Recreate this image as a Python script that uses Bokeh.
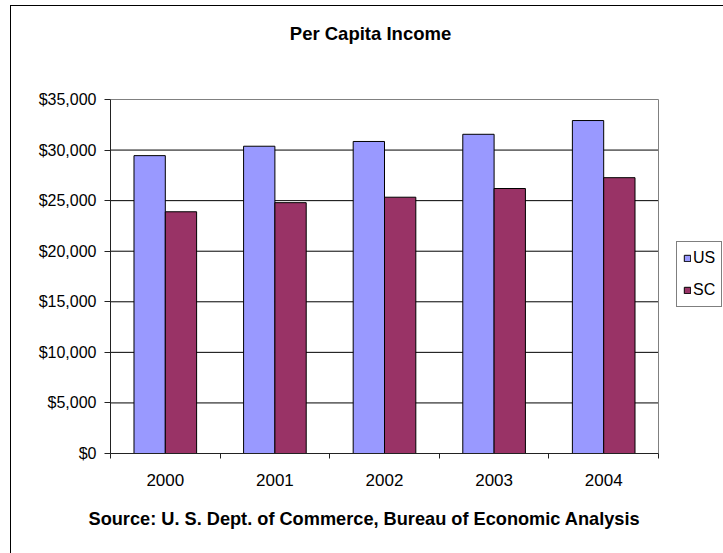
import numpy as np
from bokeh.plotting import figure
from bokeh.models import (ColumnDataSource, FixedTicker, NumeralTickFormatter, Range1d,
                          Legend, LegendItem, Title, Label, InlineStyleSheet)
from bokeh.embed import file_html
from bokeh.resources import INLINE

# ---- data ----
years = ["2000", "2001", "2002", "2003", "2004"]
us_income = [29450, 30380, 30850, 31560, 32920]
sc_income = [23900, 24800, 25340, 26200, 27270]
series_names = ["US", "SC"]
y_ticks = [0, 5000, 10000, 15000, 20000, 25000, 30000, 35000]
title_text = "Per Capita Income"
source_text = "Source:  U. S. Dept. of Commerce, Bureau of Economic Analysis"

# ---- layout (pixels) ----
W, H = 723, 553
PLOT_LEFT, PLOT_RIGHT, PLOT_TOP, PLOT_BOTTOM = 110, 658, 99, 453
FONT = "Liberation Sans"

n = len(years)
y_max = y_ticks[-1]
# the frame spans the whole upper-right canvas so that title and legend can live inside it;
# the plot area itself is 0..n x 0..y_max
x_end = n * (W - PLOT_LEFT) / (PLOT_RIGHT - PLOT_LEFT)
y_end = y_max * PLOT_BOTTOM / (PLOT_BOTTOM - PLOT_TOP)

idx = np.arange(n)
bar_w = 1 / 3.5  # Excel gap width 150%

src = ColumnDataSource(dict(
    x_us=idx + 0.5 - bar_w / 2,
    x_sc=idx + 0.5 + bar_w / 2,
    us=us_income,
    sc=sc_income,
))
grid_vals = y_ticks[1:-1]

p = figure(width=W, height=H, output_backend="svg", toolbar_location=None, title=None,
           x_range=Range1d(0, x_end), y_range=Range1d(0, y_end),
           min_border_left=PLOT_LEFT, min_border_right=0, min_border_top=0,
           min_border_bottom=H - PLOT_BOTTOM)
p.background_fill_color = None
p.border_fill_color = None
p.outline_line_color = None
p.xgrid.visible = False
p.ygrid.visible = False
# white page with the chart-area border (left and top edges only; right/bottom run off the page)
p.stylesheets = [InlineStyleSheet(css=(
    ":host {"
    " background: white;"
    " box-shadow: inset 10px 5px 0 0 white, inset 11px 6px 0 0 black;"
    "}"
))]

# horizontal gridlines and grey plot-area border
p.segment(x0=0, x1=n, y0=grid_vals, y1=grid_vals, line_color="black", line_width=1)
p.quad(left=0, right=n, bottom=0, top=y_max, fill_color=None,
       line_color="#808080", line_width=1)

r_us = p.vbar(x="x_us", top="us", width=bar_w, source=src,
              fill_color="#9999FF", line_color="black", line_width=1)
r_sc = p.vbar(x="x_sc", top="sc", width=bar_w, source=src,
              fill_color="#993366", line_color="black", line_width=1)

# y axis
ya = p.yaxis[0]
ya.bounds = (0, y_max)
ya.ticker = FixedTicker(ticks=y_ticks)
ya.formatter = NumeralTickFormatter(format="$0,0")
ya.axis_line_color = "#222222"
ya.major_tick_line_color = "#222222"
ya.major_tick_out = 6
ya.major_tick_in = 0
ya.minor_tick_line_color = None
ya.major_label_standoff = 8
ya.major_label_text_font = FONT
ya.major_label_text_font_size = "16px"
ya.major_label_text_color = "black"

# x axis
xa = p.xaxis[0]
xa.bounds = (0, n)
centers = [float(i + 0.5) for i in idx]
xa.ticker = FixedTicker(ticks=centers, minor_ticks=[float(i) for i in range(n + 1)])
xa.major_label_overrides = {c: y for c, y in zip(centers, years)}
xa.axis_line_color = "#222222"
xa.major_tick_line_color = None
xa.major_tick_out = 0
xa.major_tick_in = 0
xa.minor_tick_line_color = "#222222"
xa.minor_tick_out = 5
xa.minor_tick_in = 0
xa.major_label_standoff = 15
xa.major_label_text_font = FONT
xa.major_label_text_font_size = "17px"
xa.major_label_text_color = "black"

# chart title (inside the extended frame, screen units from frame bottom-left)
p.add_layout(Label(x=370 - PLOT_LEFT, y=PLOT_BOTTOM - 33, x_units="screen", y_units="screen",
                   text=title_text, text_font=FONT, text_font_size="18.5px",
                   text_font_style="bold", text_align="center", text_baseline="middle",
                   text_color="black"))

# source note below the axis
src_title = Title(text=source_text, align="left", offset=-22, vertical_align="top",
                  standoff=41, text_font=FONT, text_font_size="18.2px",
                  text_font_style="bold", text_color="black")
p.add_layout(src_title, "below")

legend = Legend(items=[LegendItem(label=series_names[0], renderers=[r_us]),
                       LegendItem(label=series_names[1], renderers=[r_sc])],
                location=(676 - PLOT_LEFT, PLOT_BOTTOM - 307))
legend.border_line_color = "black"
legend.border_line_width = 1
legend.background_fill_color = "white"
legend.background_fill_alpha = 1
legend.padding = 6
legend.spacing = 12
legend.margin = 0
legend.label_height = 20
legend.glyph_width = 8
legend.glyph_height = 8
legend.label_standoff = 2
legend.label_text_font = FONT
legend.label_text_font_size = "16px"
legend.label_text_color = "black"
p.add_layout(legend, "center")

open("out.html", "w").write(file_html(p, INLINE))
